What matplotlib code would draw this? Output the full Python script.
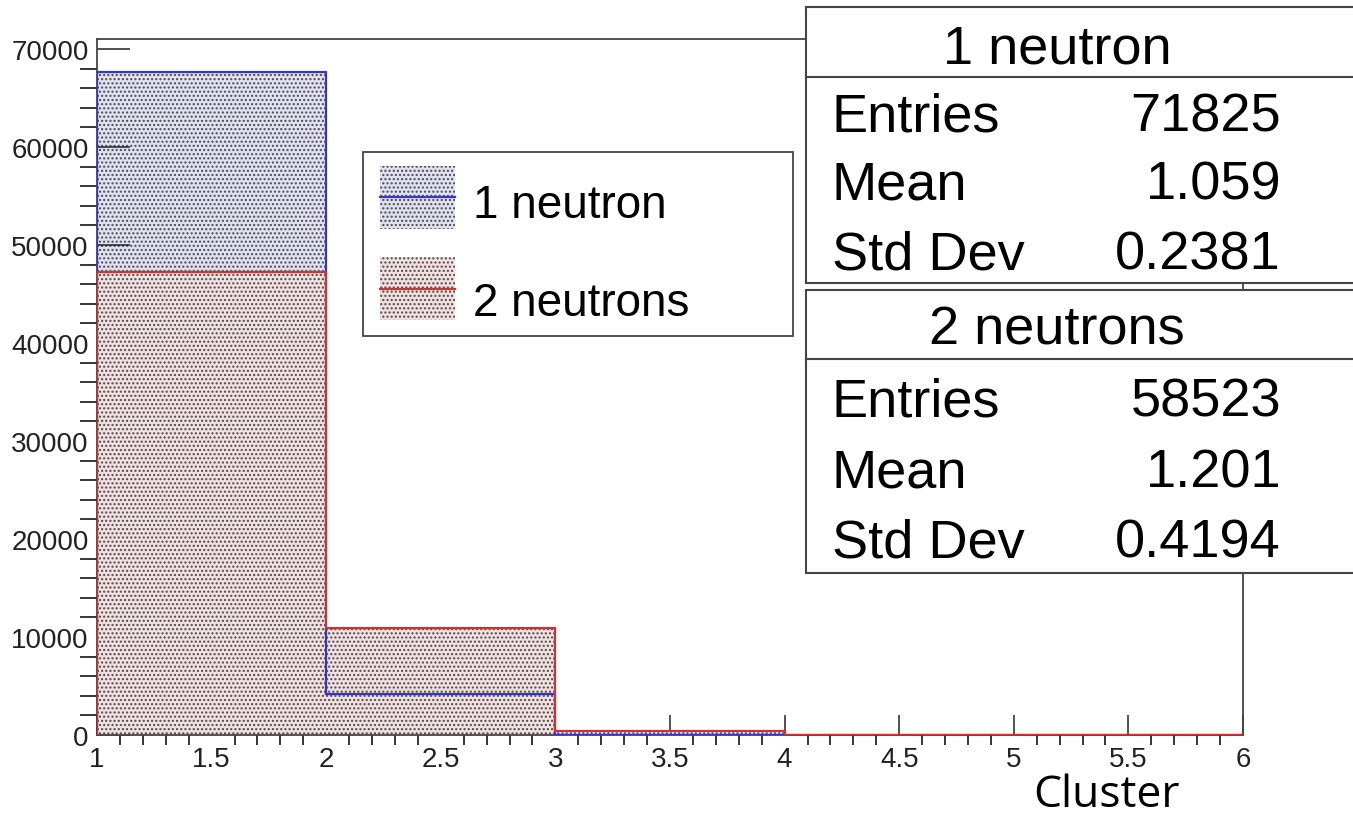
import matplotlib
matplotlib.use('Agg')
import matplotlib.pyplot as plt
from matplotlib.patches import Rectangle
from matplotlib.ticker import MultipleLocator, FuncFormatter

# bin edges and contents (cluster multiplicity)
edges = [1, 2, 3, 4, 5, 6]
one_neutron = [67630, 4150, 45, 0, 0]
two_neutrons = [47210, 10870, 448, 0, 0]

labels = ['1 neutron', '2 neutrons']
stat_names = ['Entries', 'Mean', 'Std Dev']
stats_1n = ['71825', '1.059', '0.2381']
stats_2n = ['58523', '1.201', '0.4194']

blue = '#3535c8'
red = '#c83535'
blue_bg = '#e0e0f2'
red_bg = '#f2dfdf'
dots = '#4a4a4a'

plt.rcParams['font.family'] = ['Liberation Sans', 'DejaVu Sans']
plt.rcParams['hatch.linewidth'] = 1.0

W, H = 1353, 820
fig = plt.figure(figsize=(W / 100, H / 100), dpi=100)
ax = fig.add_axes([97 / W, 1 - 736 / H, (1243 - 97) / W, (736 - 40) / H])

# fills first, outlines after (red on top)
ax.stairs(one_neutron, edges, fill=True, facecolor=blue_bg, edgecolor=dots,
          hatch='....', linewidth=0, zorder=1)
ax.stairs(two_neutrons, edges, fill=True, facecolor=red_bg, edgecolor=dots,
          hatch='....', linewidth=0, zorder=2)
ax.stairs(one_neutron, edges, baseline=0, color=blue, linewidth=1.6, zorder=3)
ax.stairs(two_neutrons, edges, baseline=0, color=red, linewidth=1.6, zorder=4)

ax.set_xlim(1, 6)
ax.set_ylim(0, max(one_neutron) * 1.05)
ax.xaxis.set_major_locator(MultipleLocator(0.5))
ax.xaxis.set_minor_locator(MultipleLocator(0.1))
ax.yaxis.set_major_locator(MultipleLocator(10000))
ax.yaxis.set_minor_locator(MultipleLocator(2000))
ax.xaxis.set_major_formatter(FuncFormatter(lambda v, p: f'{v:g}'))
ax.tick_params(axis='both', direction='in', colors='#222222', labelsize=20,
               width=1.1, zorder=5)
ax.tick_params(axis='x', which='major', length=14.5, pad=8)
ax.tick_params(axis='x', which='minor', length=7, width=1.1)
ax.tick_params(axis='y', which='major', length=24, pad=6)
ax.tick_params(axis='y', which='minor', length=12, width=1.1)
for s in ax.spines.values():
    s.set_color('#444444')
    s.set_linewidth(1.3)

# overlay in pixel coordinates for legend and stat boxes
ov = fig.add_axes([0, 0, 1, 1], zorder=10)
ov.set_xlim(0, W)
ov.set_ylim(H, 0)
ov.axis('off')

# legend
ov.add_patch(Rectangle((363, 153), 430, 184, facecolor='white',
                       edgecolor='#444444', linewidth=1.3))
leg = [(blue, blue_bg, 167, 198, 218), (red, red_bg, 258, 290, 316)]
for (c, bg, top, ly, base), lab in zip(leg, labels):
    ov.add_patch(Rectangle((380, top), 75, 63, facecolor=bg, edgecolor=dots,
                           hatch='....', linewidth=0))
    ov.plot([380, 455], [ly, ly], color=c, linewidth=1.6)
    ov.text(473, base, lab, fontsize=33, va='baseline', ha='left', color='black')

# statistics boxes
boxes = [(8, 78, 284, labels[0], 63, stats_1n, [131, 200, 270]),
         (291, 360, 574, labels[1], 345, stats_2n, [417, 488, 558])]
for top, sep, bot, title, tbase, vals, bases in boxes:
    ov.add_patch(Rectangle((806, top), 600, bot - top, facecolor='white',
                           edgecolor='#444444', linewidth=1.5))
    ov.plot([806, 1360], [sep, sep], color='#444444', linewidth=1.5)
    ov.text(1057, tbase, title, fontsize=39, ha='center', va='baseline')
    for name, v, b in zip(stat_names, vals, bases):
        ov.text(832, b, name, fontsize=39, ha='left', va='baseline')
        ov.text(1281, b, v, fontsize=39, ha='right', va='baseline')

ov.text(1106, 818, 'Cluster', fontsize=32, ha='center', va='bottom',
        family=['Open Sans', 'DejaVu Sans'])

fig.savefig('out.png', dpi=100)
